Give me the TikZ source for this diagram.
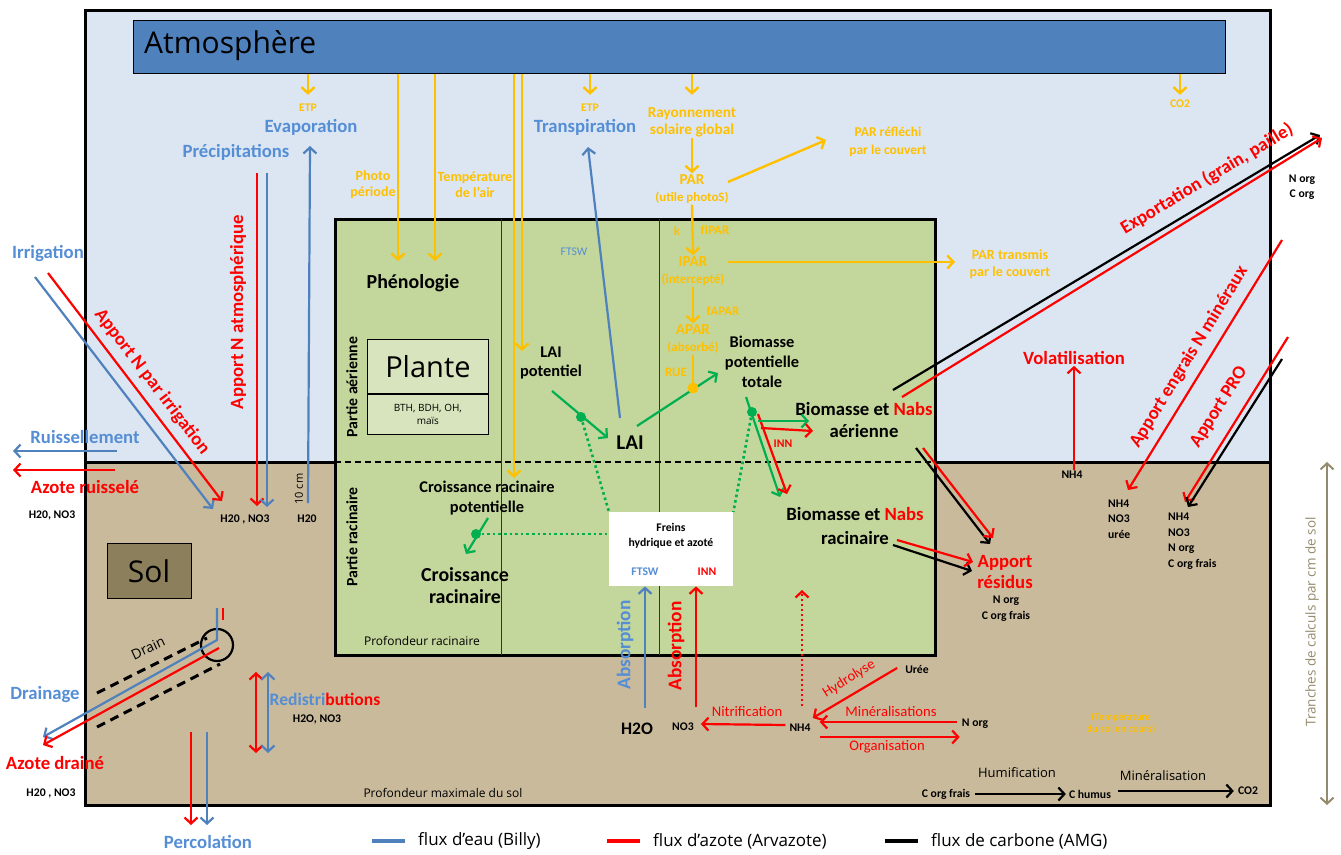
\documentclass[tikz,border=0pt]{standalone}
\usepackage{fontspec}
\setmainfont[Scale=1.17]{Carlito}
\newfontfamily\tahoma{Open Sans}
\usetikzlibrary{arrows.meta, positioning, calc}
\definecolor{sky}{HTML}{DCE6F2}
\definecolor{soil}{HTML}{C9BA9C}
\definecolor{plantfill}{HTML}{C3D69B}
\definecolor{plantlight}{HTML}{D7E4BD}
\definecolor{banner}{HTML}{4F81BD}
\definecolor{wline}{HTML}{4F81BD}
\definecolor{wtext}{HTML}{558ED5}
\definecolor{nred}{HTML}{FF0000}
\definecolor{sun}{HTML}{FFC000}
\definecolor{leaf}{HTML}{00B050}
\definecolor{solbox}{HTML}{8C7F5C}
\definecolor{depth}{HTML}{948A6C}
\tikzset{
  fs/.style 2 args={font=\fontsize{#1}{#2}\selectfont\bfseries},
  rg/.style 2 args={font=\fontsize{#1}{#2}\selectfont},
  th/.style 2 args={font=\fontsize{#1}{#2}\selectfont\tahoma},
  onehead/.style={-{Straight Barb[length=6pt,width=13pt]}},
  twohead/.style={{Straight Barb[length=6pt,width=13pt]}-{Straight Barb[length=6pt,width=13pt]}},
  wflow/.style={onehead, draw=wline, line width=2.2pt},
  nflow/.style={onehead, draw=nred, line width=2.2pt},
  cflow/.style={onehead, draw=black, line width=2.2pt},
  sflow/.style={onehead, draw=sun, line width=2.4pt},
  gflow/.style={onehead, draw=leaf, line width=2.2pt},
  gdots/.style={draw=leaf, line width=2.6pt, dash pattern=on 2.6pt off 3pt},
  legline/.style={line width=3.5pt},
}

\begin{document}
\begin{tikzpicture}[x=1pt, y=-1pt, every node/.style={align=center, inner sep=1pt}]
  \useasboundingbox (0,0) rectangle (1341,854);

  % atmosphere and soil
  \fill[sky] (85,10) rectangle (1270,462);
  \fill[soil] (85,462) rectangle (1270,805);
  \draw[line width=3pt] (85,462) -- (1270,462);
  \draw[line width=3pt] (85,10) rectangle (1270,805);
  \node[draw, thick, fill=banner, minimum width=1092pt, minimum height=53pt,
        anchor=north west] (atmo) at (133,20) {};
  \node[th={30}{32}, anchor=west] (atmolbl) at (143,46) {Atmosphère};

  % plant box
  \draw[line width=3pt, fill=plantfill] (335,219) rectangle (935,655);
  \draw[black!80, thick] (501,219) -- (501,655) (659,219) -- (659,655);
  \draw[line width=1.2pt, dash pattern=on 6pt off 4pt] (335,462) -- (940,462);
  \node[draw, thick, fill=plantlight, minimum width=121pt, minimum height=54pt,
        anchor=north west, th={29}{31}] (plante) at (367,339) {Plante};
  \node[draw, thick, fill=plantlight, minimum width=121pt, minimum height=40pt,
        anchor=north, th={10}{13}] (espece) at (plante.south) {BTH, BDH, OH,\\maïs};
  \node[fs={13.5}{17}, rotate=90] (aerien) at (352,387) {Partie aérienne};
  \node[fs={13.5}{17}, rotate=90] (racin) at (352,537) {Partie racinaire};
  \node[fs={17}{20}] (pheno) at (413,283) {Phénologie};
  \node[fs={14}{19}] (laipot) at (551,363) {LAI\\potentiel};
  \node[fs={18}{21}] (lai) at (630,443) {LAI};
  \node[fs={14}{20}] (biopot) at (762,362) {Biomasse\\potentielle\\totale};
  \node[fs={16}{22}] (bioaer) at (864,420) {Biomasse et \textcolor{nred}{Nabs}\\aérienne};
  \node[fs={16}{24}] (biorac) at (855,526) {Biomasse et \textcolor{nred}{Nabs}\\racinaire};
  \node[fs={10}{12}, text=nred] (inn) at (783,444) {INN};
  \node[fs={14}{20}] (crpot) at (487,498) {Croissance racinaire\\potentielle};
  \node[fs={17}{22}] (croiss) at (465,586) {Croissance\\racinaire};
  \node[fill=white, minimum width=124pt, minimum height=74pt,
        anchor=north west] (freins) at (609,512) {};
  \node[fs={10}{15}] (freinslbl) at (671,536) {Freins\\hydrique et azoté};
  \node[fs={10}{12}, text=wtext] (ftswF) at (645,572) {FTSW};
  \node[fs={10}{12}, text=nred] (innF) at (707,572) {INN};
  \node[th={12}{14}] (profrac) at (422,641) {Profondeur racinaire};

  % radiation and climate
  \node[fs={10}{12}, text=sun] (etpE) at (308,108) {ETP};
  \node[fs={16}{18}, text=wtext] (evap) at (311,127) {Evaporation};
  \node[fs={16}{18}, text=wtext] (precip) at (236,152) {Précipitations};
  \node[fs={12}{16}, text=sun] (photo) at (373,185) {Photo\\période};
  \node[fs={12}{16}, text=sun] (tair) at (475,185) {Température\\de l’air};
  \node[fs={10}{12}, text=sun] (etpT) at (590,108) {ETP};
  \node[fs={16}{18}, text=wtext] (transp) at (585,127) {Transpiration};
  \node[fs={13}{17}, text=sun] (rayo) at (692,122) {Rayonnement\\solaire global};
  \node[fs={13}{17}, text=sun] (par) at (692,189) {PAR\\{\fontsize{11}{13}\selectfont(utile photoS)}};
  \node[fs={11.5}{18}, text=sun] (parref) at (888,142) {PAR réfléchi\\par le couvert};
  \node[fs={10}{12}, text=sun] (co2a) at (1180,104) {CO2};
  \node[fs={11}{13}, text=sun] (kk) at (677,231) {k};
  \node[fs={11}{13}, text=sun] (fipar) at (715,230) {fIPAR};
  \node[fs={13}{17}, text=sun] (ipar) at (693,271) {IPAR\\{\fontsize{11}{13}\selectfont(intercepté)}};
  \node[fs={12}{17}, text=sun] (partr) at (1010,264) {PAR transmis\\par le couvert};
  \node[fs={11}{13}, text=sun] (fapar) at (723,311) {fAPAR};
  \node[fs={13}{17}, text=sun] (apar) at (693,339) {APAR\\{\fontsize{11}{13}\selectfont(absorbé)}};
  \node[fs={11}{13}, text=sun] (rue) at (676,372) {RUE};
  \node[rg={10}{12}, text=wtext] (ftsw) at (574,252) {FTSW};

  % left side
  \node[fs={16}{18}, text=wtext] (irrig) at (48,254) {Irrigation};
  \node[fs={16}{18}, text=nred, rotate=-52.5] (nirrig) at (152,382) {Apport N par irrigation};
  \node[fs={16}{18}, text=nred, rotate=90] (natm) at (238,312) {Apport N atmosphérique};
  \node[fs={16}{18}, text=wtext] (ruiss) at (85,437) {Ruissellement};
  \node[fs={16}{18}, text=nred] (azruiss) at (85,487) {Azote ruisselé};
  \node[fs={10}{12}] (h2oRu) at (52,515) {H20, NO3};
  \node[fs={10}{12}] (h2oIr) at (245,519) {H20 , NO3};
  \node[fs={10}{12}] (h2oEv) at (307,519) {H20};
  \node[th={11}{13}, rotate=90] (tencm) at (299,489) {10 cm};
  \node[draw, thick, fill=solbox, minimum width=84pt, minimum height=55pt,
        th={30}{32}] (sol) at (149,571) {Sol};
  \node[th={14}{16}, rotate=25] (drainlbl) at (148,648) {Drain};
  \node[fs={16}{18}, text=wtext] (drainage) at (45,695) {Drainage};
  \node[fs={16}{18}, text=nred] (azdr) at (55,763) {Azote drainé};
  \node[fs={10}{12}] (h2oDr) at (51,793) {H20 , NO3};
  \node[fs={15}{17}] (redis) at (325,699) {\textcolor{wtext}{Redistri}\textcolor{nred}{butions}};
  \node[fs={10}{12}] (h2oRe) at (317,719) {H2O, NO3};
  \node[fs={16}{18}, text=wtext] (percol) at (208,842) {Percolation};
  \node[th={12}{14}] (profmax) at (443,793) {Profondeur maximale du sol};

  % soil nitrogen
  \node[fs={16.5}{21}, text=wtext, rotate=90] (absW) at (625,645) {Absorption};
  \node[fs={16.5}{21}, text=nred, rotate=90] (absN) at (676,646) {Absorption};
  \node[fs={15}{18}] (h2oAb) at (637,729) {H2O};
  \node[fs={10}{12}] (no3) at (683,727) {NO3};
  \node[fs={10}{12}] (nh4) at (800,728) {NH4};
  \node[fs={10}{12}] (norg) at (975,724) {N org};
  \node[fs={10}{12}] (uree) at (917,669) {Urée};
  \node[rg={12.5}{14}, text=nred] (nitrif) at (747,711) {Nitrification};
  \node[rg={12.5}{14}, text=nred] (miner) at (891,711) {Minéralisations};
  \node[rg={12.5}{14}, text=nred] (organ) at (887,747) {Organisation};
  \node[rg={12.5}{14}, text=nred, rotate=32] (hydro) at (849,679) {Hydrolyse};

  % right side
  \node[fs={16}{18}, text=nred] (volat) at (1074,358) {Volatilisation};
  \node[fs={10}{12}] (nh4v) at (1072,475) {NH4};
  \node[fs={16}{18}, text=nred, rotate=31] (export) at (1207,179) {Exportation (grain, paille)};
  \node[fs={10}{15}] (orgexp) at (1302,187) {N org\\C org};
  \node[fs={16}{18}, text=nred, rotate=58.5] (engrais) at (1189,357) {Apport engrais N minéraux};
  \node[fs={16}{18}, text=nred, rotate=58] (pro) at (1219,407) {Apport PRO};
  \node[fs={10}{15.5}, align=left, anchor=west] (engrlist) at (1107,519) {NH4\\NO3\\urée};
  \node[fs={10}{15.5}, align=left, anchor=west] (prolist) at (1167,541) {NH4\\NO3\\N org\\C org frais};
  \node[fs={16}{21}, text=nred] (residus) at (1005,572) {Apport\\résidus};
  \node[fs={10}{16}] (resorg) at (1006,609) {N org\\C org frais};
  \node[fs={9}{12}, text=sun] (tsol) at (1121,723) {(Température\\du sol en cours)};
  \node[fs={10}{12}] (corg) at (946,794) {C org frais};
  \node[fs={10}{12}] (chum) at (1090,794) {C humus};
  \node[fs={10}{12}] (co2b) at (1248,791) {CO2};
  \node[th={13}{15}] (humif) at (1017,773) {Humification};
  \node[th={13}{15}] (minc) at (1163,776) {Minéralisation};
  \node[th={13.5}{16}, text=depth, rotate=90] (tranches) at (1312,622) {Tranches de calculs par cm de sol};

  % free ends of the connectors
  \foreach \n/\x/\y in {photoIn/398/261, tairIn/435/261, laiIn/522/351, rootIn/514/478,
      parOut/728/182, parRefIn/826/140, iparOut/728/262, parTrIn/955/262, rueDot/693/388,
      laiOut/637/426, bioIn/718/373, lpOut/552/391, laiDot/581/417, lpIn/608/438,
      ftswFoot/620/418, transpIn/588/147, bioDot/752/412,
      gV0/746/397, gV1/780/497, rV0/758/414, rV1/787/494,
      gH0/758/421, gH1/809/421, rH0/761/428, rH1/813/431,
      crOut/488/518, crDot/476/534, crIn/466/554,
      irrB0/35/277, irrB1/213/509, irrR0/48/273, irrR1/222/501,
      atmR0/257/173, atmR1/257/506, atmB0/267/173, atmB1/267/507,
      evap0/308/503, evap1/310/146,
      ruiB0/117/451, ruiB1/13/451, ruiR0/115/470, ruiR1/13/470,
      drB0/217/608, drB1/217/640, drB2/43/737, drR0/223/608, drR1/223/620,
      drR2/219/648, drR3/43/745, drC/217/645,
      dsA0/97/693, dsA1/207/638, dsB0/97/727, dsB1/220/664,
      redR0/256/672, redR1/256/753, redB0/268/672, redB1/268/753,
      perR0/191/732, perR1/191/825, perB0/207/732, perB1/207/825,
      absB0/645/708, absR0/696/707, nupOut/802/706, nupIn/802/590,
      exK0/893/390, exK1/1320/135, exR0/902/397, exR1/1322/138,
      engR0/1282/240, engR1/1128/490,
      proR0/1288/337, proR1/1185/502, proK0/1282/359, proK1/1188/507,
      raK0/916/448, raK1/990/544, raR0/923/448, raR1/993/538,
      rrK0/893/545, rrK1/972/571, rrR0/897/540, rrR1/973/562,
      depth0/1327/462, depth1/1327/805}
    \coordinate (\n) at (\x,\y);

  % climate flows
  \foreach \c in {etpE, etpT, rayo, co2a}
    \draw[sflow] (\c |- atmo.south) -- ++(0,21);
  \foreach \c in {photoIn, tairIn, laiIn, rootIn}
    \draw[sflow] (\c |- atmo.south) -- (\c);
  \draw[sflow] (rayo.south) -- (par.north);
  \draw[sflow] (par.south) -- (ipar.north);
  \draw[sflow] (ipar.south) -- (apar.north);
  \draw[sflow] (parOut) -- (parRefIn);
  \draw[sflow] (iparOut) -- (parTrIn);
  \draw[sun, line width=2.4pt] (apar.south) -- (rueDot);

  % plant growth
  \draw[gflow] (laiOut) -- (bioIn);
  \fill[sun] (rueDot) circle (5.5);
  \draw[gflow] (lpOut) -- (lpIn);
  \draw[wflow] (ftswFoot) -- (transpIn);
  \draw[gflow] (gV0) -- (gV1);
  \draw[nflow] (rV0) -- (rV1);
  \draw[gflow] (gH0) -- (gH1);
  \draw[nflow] (rH0) -- (rH1);
  \draw[gflow] (crOut) -- (crIn);
  \draw[gdots] (laiDot) -- (freins.north west);
  \draw[gdots] (bioDot) -- (freins.north east);
  \draw[gdots] (crDot) -- (crDot -| freins.west);
  \foreach \d in {laiDot, bioDot, crDot}
    \fill[leaf] (\d) circle (5);

  % water and nitrogen inputs
  \draw[wflow] (irrB0) -- (irrB1);
  \draw[nflow] (irrR0) -- (irrR1);
  \draw[nflow] (atmR0) -- (atmR1);
  \draw[wflow] (atmB0) -- (atmB1);
  \draw[wflow] (evap0) -- (evap1);
  \draw[wflow] (ruiB0) -- (ruiB1);
  \draw[nflow] (ruiR0) -- (ruiR1);

  % drain
  \draw[line width=3pt, dash pattern=on 9pt off 6pt] (dsA0) -- (dsA1) (dsB0) -- (dsB1);
  \draw[line width=2.2pt] (drC) circle (16);
  \draw[wflow] (drB0) -- (drB1) -- (drB2);
  \draw[nred, line width=2.2pt] (drR0) -- (drR1);
  \draw[nflow] (drR2) -- (drR3);
  \draw[twohead, nred, line width=2.2pt] (redR0) -- (redR1);
  \draw[twohead, wline, line width=2.2pt] (redB0) -- (redB1);
  \draw[nflow] (perR0) -- (perR1);
  \draw[wflow] (perB0) -- (perB1);

  % absorption and soil transformations
  \draw[wflow] (absB0) -- (absB0 |- freins.south);
  \draw[nflow] (absR0) -- (absR0 |- freins.south);
  \draw[nflow, dash pattern=on 2.5pt off 2.5pt] (nupOut) -- (nupIn);
  \draw[nflow] ($(nh4.west)+(-3,-3)$) -- ($(no3.east)+(6,-3)$);
  \draw[nflow] ($(norg.west)+(-4,-2)$) -- ($(nh4.east)+(8,-6)$);
  \draw[nflow] ($(nh4.east)+(8,9)$) -- ($(norg.west)+(-1,13)$);
  \draw[nflow] ($(uree.west)+(-7,-1)$) -- ($(nh4.north east)+(1,-5)$);
  \draw[cflow] ($(corg.east)+(4,0)$) -- ($(chum.west)+(-2,0)$);
  \draw[cflow] ($(chum.east)+(6,-3)$) -- ($(co2b.west)+(-3,0)$);

  % exports and inputs on the right
  \draw[cflow] (exK0) -- (exK1);
  \draw[nflow] (exR0) -- (exR1);
  \draw[nflow] (volat.south |- nh4v.north) -- (volat.south);
  \draw[nflow] (engR0) -- (engR1);
  \draw[nflow] (proR0) -- (proR1);
  \draw[cflow] (proK0) -- (proK1);
  \draw[cflow] (raK0) -- (raK1);
  \draw[nflow] (raR0) -- (raR1);
  \draw[cflow] (rrK0) -- (rrK1);
  \draw[nflow] (rrR0) -- (rrR1);
  \draw[twohead, depth, line width=2pt] (depth0) -- (depth1);

  % legend
  \foreach \col/\x/\lab [count=\i] in {wline/417/{flux d’eau (Billy)},
      nred/652/{flux d’azote (Arvazote)}, black/930/{flux de carbone (AMG)}}{%
    \node[th={17}{19}, anchor=west] (leg\i) at (\x,841) {\lab};
    \draw[\col, legline] ([xshift=-12pt]leg\i.west) -- ++(-33,0);}
\end{tikzpicture}
\end{document}
